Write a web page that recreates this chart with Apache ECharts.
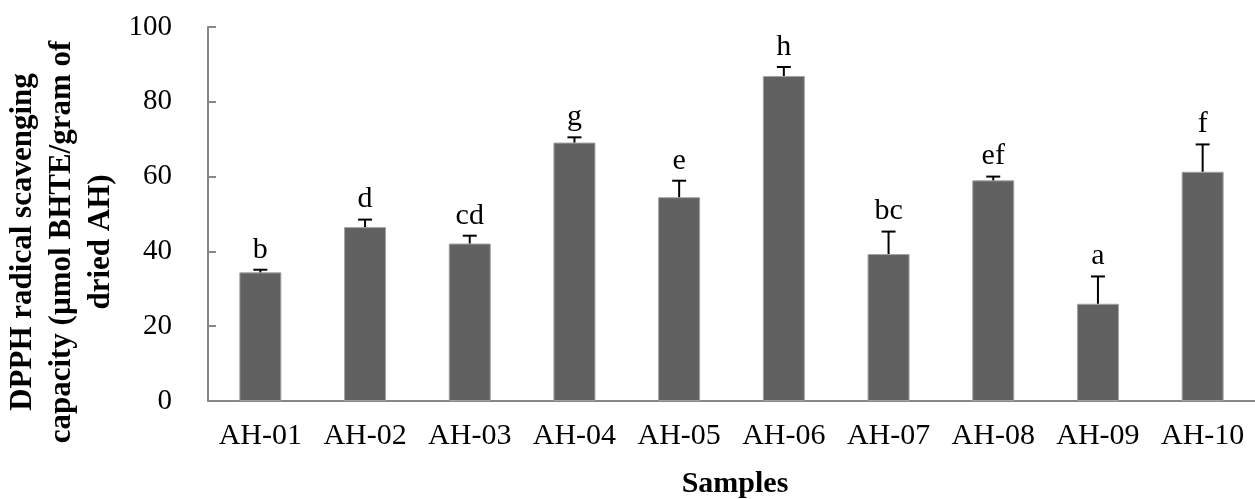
<!DOCTYPE html>
<html>
<head>
<meta charset="utf-8">
<script src="https://cdn.jsdelivr.net/npm/echarts@6/dist/echarts.min.js"></script>
<style>
  html, body { margin: 0; padding: 0; background: #fff; }
  #chart { width: 1255px; height: 499px; }
</style>
</head>
<body>
<div id="chart"></div>
<script>
// values
let samples = ['AH-01', 'AH-02', 'AH-03', 'AH-04', 'AH-05', 'AH-06', 'AH-07', 'AH-08', 'AH-09', 'AH-10'];
let dpphMean = [34.4, 46.5, 42.1, 69.1, 54.5, 86.9, 39.3, 59.0, 26.0, 61.3];
let dpphSd = [0.7, 2.0, 2.1, 1.4, 4.4, 2.4, 6.0, 1.0, 7.3, 7.3];
let letters = ['b', 'd', 'cd', 'g', 'e', 'h', 'bc', 'ef', 'a', 'f'];
let yTicks = [0, 20, 40, 60, 80, 100];

const FONT = '"Liberation Serif", "DejaVu Serif", serif';

function drawChart() {
    let myChart = echarts.init(document.getElementById('chart'));

    let errData = [];
    samples.forEach((s, i) => {
        errData.push([i, dpphMean[i], dpphSd[i]]);
    });

    let option = {
        animation: false,
        backgroundColor: '#fff',
        grid: { left: 208, right: -6, top: 27, bottom: 98 },
        xAxis: {
            type: 'category',
            data: samples,
            axisLine: { lineStyle: { color: '#878787', width: 2 } },
            axisTick: { show: false },
            axisLabel: { color: '#000', fontFamily: FONT, fontSize: 30, margin: 20, interval: 0 }
        },
        yAxis: {
            type: 'value',
            min: yTicks[0],
            max: yTicks[yTicks.length - 1],
            interval: 20,
            splitLine: { show: false },
            axisLine: { show: true, lineStyle: { color: '#878787', width: 2 } },
            axisTick: { show: true, inside: true, length: 8, lineStyle: { color: '#878787', width: 2 } },
            axisLabel: { color: '#000', fontFamily: FONT, fontSize: 29, margin: 36 }
        },
        graphic: [
            {
                type: 'text',
                x: 62,
                y: 242,
                rotation: Math.PI / 2,
                style: {
                    text: 'DPPH radical scavenging\ncapacity (µmol BHTE/gram of\ndried AH)',
                    fontFamily: FONT,
                    fontWeight: 'bold',
                    fontSize: 31,
                    lineHeight: 39,
                    fill: '#000',
                    align: 'center',
                    verticalAlign: 'middle'
                }
            },
            {
                type: 'text',
                x: 735,
                y: 484,
                style: {
                    text: 'Samples',
                    fontFamily: FONT,
                    fontWeight: 'bold',
                    fontSize: 30,
                    fill: '#000',
                    align: 'center',
                    verticalAlign: 'middle'
                }
            }
        ],
        series: [
            {
                type: 'bar',
                data: dpphMean,
                barWidth: 42,
                itemStyle: { color: '#616161', borderColor: '#a3a3a3', borderWidth: 1 }
            },
            {
                type: 'custom',
                data: errData,
                z: 10,
                renderItem: function (params, api) {
                    let x = api.value(0);
                    let mean = api.value(1);
                    let sd = api.value(2);
                    let base = api.coord([x, mean]);
                    let top = api.coord([x, mean + sd]);
                    let half = 7;
                    return {
                        type: 'group',
                        children: [
                            {
                                type: 'line',
                                shape: { x1: top[0], y1: base[1], x2: top[0], y2: top[1] },
                                style: { stroke: '#000', lineWidth: 2 }
                            },
                            {
                                type: 'line',
                                shape: { x1: top[0] - half, y1: top[1], x2: top[0] + half, y2: top[1] },
                                style: { stroke: '#000', lineWidth: 2 }
                            },
                            {
                                type: 'text',
                                x: top[0],
                                y: top[1] - 5,
                                style: {
                                    text: letters[params.dataIndex],
                                    fontFamily: FONT,
                                    fontSize: 30,
                                    fill: '#000',
                                    align: 'center',
                                    verticalAlign: 'bottom'
                                }
                            }
                        ]
                    };
                }
            }
        ]
    };

    myChart.setOption(option);
}

drawChart();
</script>
</body>
</html>
